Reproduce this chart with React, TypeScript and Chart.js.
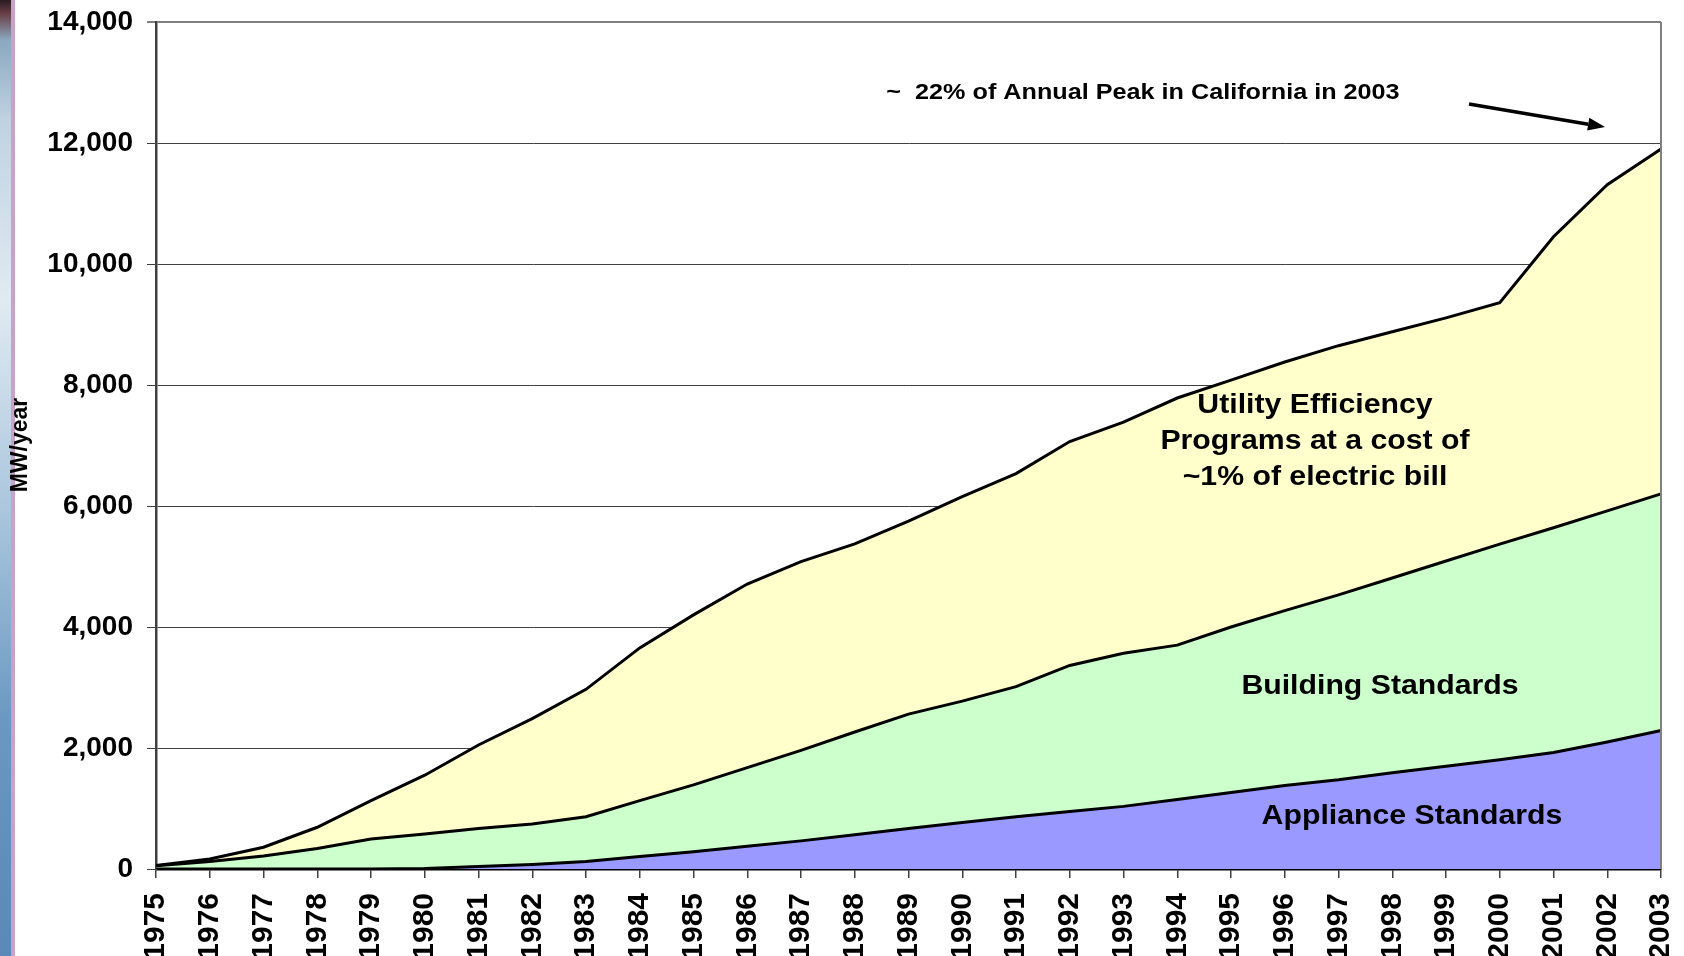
import React, { useEffect, useRef } from "react";
import { Chart, registerables } from "chart.js";

Chart.register(...registerables);

const YEARS = [
  "1975", "1976", "1977", "1978", "1979", "1980", "1981", "1982", "1983", "1984",
  "1985", "1986", "1987", "1988", "1989", "1990", "1991", "1992", "1993", "1994",
  "1995", "1996", "1997", "1998", "1999", "2000", "2001", "2002", "2003",
];

// MW/year contributed by each program (stacked)
const APPLIANCE_MW = [
  0, 0, 0, 0, 0, 10, 40, 75, 125, 205,
  285, 375, 465, 565, 670, 770, 865, 950, 1035, 1150,
  1265, 1380, 1475, 1590, 1700, 1805, 1925, 2100, 2290,
];
const BUILDING_MW = [
  55, 125, 215, 340, 495, 570, 630, 670, 740, 925,
  1105, 1300, 1495, 1700, 1890, 2005, 2150, 2415, 2530, 2550,
  2735, 2890, 3055, 3220, 3390, 3565, 3715, 3820, 3910,
];
const UTILITY_MW = [
  5, 40, 145, 350, 635, 970, 1380, 1740, 2105, 2525,
  2810, 3035, 3120, 3110, 3190, 3380, 3520, 3700, 3820, 4085,
  4080, 4110, 4120, 4070, 4020, 3990, 4810, 5390, 5700,
];

const Y_MIN = 0;
const Y_MAX = 14000;
const Y_STEP = 2000;

const SERIES_NAMES = ["Appliance Standards", "Building Standards", "Utility Efficiency Programs"];
const Y_TITLE = "MW/year";
const NOTE = "~  22% of Annual Peak in California in 2003";
const UTILITY_LABEL = ["Utility Efficiency", "Programs at a cost of", "~1% of electric bill"];
const BUILDING_LABEL = "Building Standards";
const APPLIANCE_LABEL = "Appliance Standards";

const FONT = "'Liberation Sans', Arial, Helvetica, sans-serif";

function stretchedText(ctx: CanvasRenderingContext2D, text: string, cx: number, baseline: number, size: number, sx: number) {
  ctx.save();
  ctx.font = `bold ${size}px ${FONT}`;
  ctx.fillStyle = "#000";
  ctx.textAlign = "center";
  ctx.textBaseline = "alphabetic";
  ctx.translate(cx, baseline);
  ctx.scale(sx, 1);
  ctx.fillText(text, 0, 0);
  ctx.restore();
}

const decorPlugin = {
  id: "decor",
  afterDraw(chart: any) {
    const ctx: CanvasRenderingContext2D = chart.ctx;
    const area = chart.chartArea;

    // right border of plot area
    ctx.save();
    ctx.strokeStyle = "#808080";
    ctx.lineWidth = 2;
    ctx.beginPath();
    ctx.moveTo(area.right, area.top);
    ctx.lineTo(area.right, area.bottom);
    ctx.stroke();
    ctx.restore();

    // y axis title
    ctx.save();
    ctx.font = `bold 23px ${FONT}`;
    ctx.fillStyle = "#000";
    ctx.textAlign = "center";
    ctx.textBaseline = "middle";
    ctx.translate(21, 445);
    ctx.rotate(-Math.PI / 2);
    ctx.fillText(Y_TITLE, 0, 0);
    ctx.restore();

    // top note
    stretchedText(ctx, NOTE, 1143, 99, 22.5, 1.12);

    // arrow
    const x1 = 1469, y1 = 104, x2 = 1605, y2 = 127;
    const ang = Math.atan2(y2 - y1, x2 - x1);
    const headLen = 17, headW = 6.5;
    ctx.save();
    ctx.strokeStyle = "#000";
    ctx.fillStyle = "#000";
    ctx.lineWidth = 3.5;
    ctx.beginPath();
    ctx.moveTo(x1, y1);
    ctx.lineTo(x2 - headLen * Math.cos(ang), y2 - headLen * Math.sin(ang));
    ctx.stroke();
    ctx.beginPath();
    ctx.moveTo(x2, y2);
    ctx.lineTo(x2 - headLen * Math.cos(ang) + headW * Math.sin(ang), y2 - headLen * Math.sin(ang) - headW * Math.cos(ang));
    ctx.lineTo(x2 - headLen * Math.cos(ang) - headW * Math.sin(ang), y2 - headLen * Math.sin(ang) + headW * Math.cos(ang));
    ctx.closePath();
    ctx.fill();
    ctx.restore();

    // region labels
    stretchedText(ctx, UTILITY_LABEL[0], 1315, 413, 27, 1.12);
    stretchedText(ctx, UTILITY_LABEL[1], 1315, 448.5, 27, 1.12);
    stretchedText(ctx, UTILITY_LABEL[2], 1315, 485, 27, 1.12);
    stretchedText(ctx, BUILDING_LABEL, 1380, 693.5, 27, 1.12);
    stretchedText(ctx, APPLIANCE_LABEL, 1412, 824, 27, 1.12);
  },
};

export default function App() {
  const canvasRef = useRef<HTMLCanvasElement | null>(null);

  useEffect(() => {
    document.body.style.margin = "0";
    const canvas = canvasRef.current;
    if (!canvas) return;
    const lineStyle = { borderColor: "#000", borderWidth: 3, pointRadius: 0, tension: 0 };
    const chart = new Chart(canvas, {
      type: "line",
      data: {
        labels: YEARS,
        datasets: [
          { label: SERIES_NAMES[0], data: APPLIANCE_MW, backgroundColor: "#9999FF", fill: "origin", ...lineStyle },
          { label: SERIES_NAMES[1], data: BUILDING_MW, backgroundColor: "#CCFFCC", fill: "-1", ...lineStyle },
          { label: SERIES_NAMES[2], data: UTILITY_MW, backgroundColor: "#FFFFCC", fill: "-1", ...lineStyle },
        ],
      },
      options: {
        animation: false,
        responsive: false,
        devicePixelRatio: 1,
        layout: { padding: { top: 22, right: 23, bottom: 0, left: 0 } },
        plugins: {
          legend: { display: false },
          tooltip: { enabled: false },
          filler: { drawTime: "beforeDatasetsDraw" },
        } as any,
        scales: {
          x: {
            grid: {
              drawOnChartArea: false,
              drawTicks: true,
              tickLength: 9,
              color: "#404040",
              lineWidth: 1.5,
            },
            border: { display: true, color: "#000", width: 2.5 },
            ticks: {
              autoSkip: false,
              minRotation: 90,
              maxRotation: 90,
              padding: 15,
              color: "#000",
              font: { family: FONT, size: 30, weight: "bold" },
            },
            afterFit: (s: any) => {
              s.height = 87;
              s.paddingLeft = 0;
              s.paddingRight = 0;
            },
          },
          y: {
            stacked: true,
            min: Y_MIN,
            max: Y_MAX,
            ticks: {
              stepSize: Y_STEP,
              padding: 14,
              color: "#000",
              font: { family: FONT, size: 28, weight: "bold" },
              callback: (v: any) => Number(v).toLocaleString("en-US"),
            },
            grid: {
              color: (c: any) => (c.tick && c.tick.value === Y_MAX ? "#808080" : "#404040"),
              lineWidth: (c: any) => (c.tick && c.tick.value === Y_MAX ? 2 : 1),
              tickLength: 9,
            },
            border: { display: true, color: "#404040", width: 2.5 },
            afterFit: (s: any) => {
              s.width = 156;
              s.paddingTop = 0;
              s.paddingBottom = 0;
            },
          },
        },
      } as any,
      plugins: [decorPlugin],
    });
    return () => chart.destroy();
  }, []);

  return (
    <div style={{ position: "relative", width: 1684, height: 956, overflow: "hidden", background: "#fff" }}>
      <div
        style={{
          position: "absolute",
          left: 0,
          top: 0,
          width: 11,
          height: 956,
          borderRight: "4px solid #c9a2c9",
          background:
            "linear-gradient(to bottom, #2a1a20 0px, #6a4048 14px, #8aa8c0 40px, #c0d2e2 120px, #e0eaf2 300px, #a8c4dc 520px, #6a98c2 720px, #5a88b8 956px)",
        }}
      />
      <canvas
        ref={canvasRef}
        width={1684}
        height={956}
        style={{ position: "absolute", left: 0, top: 0, width: 1684, height: 956 }}
      />
    </div>
  );
}
